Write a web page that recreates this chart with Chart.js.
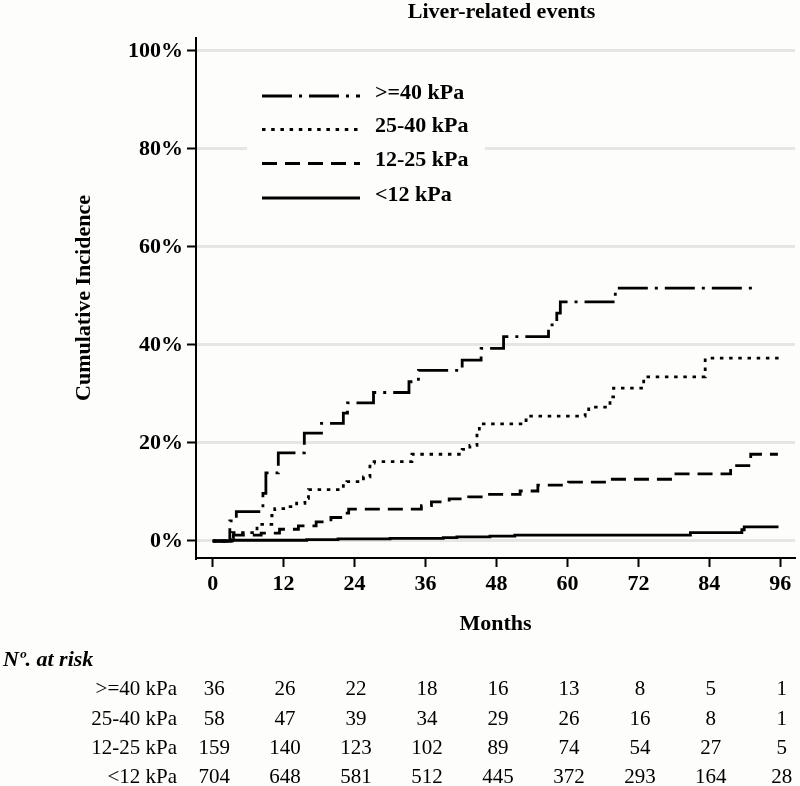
<!DOCTYPE html>
<html><head><meta charset="utf-8">
<script src="https://cdn.jsdelivr.net/npm/chart.js@4.4.1/dist/chart.umd.min.js"></script>
<style>
html,body{margin:0;padding:0;background:#fdfdfb;}
#wrap{width:800px;height:786px;position:relative;}
</style></head>
<body><div id="wrap"><canvas id="c" width="800" height="786"></canvas></div>
<script>
// ---- data ----
const chartTitle = 'Liver-related events';
const xAxisTitle = 'Months';
const yAxisTitle = 'Cumulative Incidence';
const seriesNames = ['>=40 kPa', '25-40 kPa', '12-25 kPa', '<12 kPa'];

const months_ge40 = [0, 2.9, 4.0, 8.5, 9.0, 11.1, 15.5, 18.4, 22.1, 22.8, 27.2, 33.2, 34.8, 42.2, 45.4, 49.2, 56.8, 58.2, 58.8, 68.1, 92.0];
const cuminc_ge40 = [0, 4.1, 6.0, 9.7, 13.9, 18.0, 22.0, 24.0, 26.1, 28.2, 30.3, 32.5, 34.8, 36.9, 39.3, 41.7, 44.1, 46.5, 48.8, 51.6, 51.6];

const months_25_40 = [0, 3.3, 7.5, 10.0, 10.5, 13.1, 14.2, 15.6, 16.2, 22.1, 22.7, 25.5, 26.6, 27.3, 33.7, 42.2, 43.5, 44.7, 45.1, 53.0, 53.5, 63.0, 63.6, 67.2, 67.8, 72.9, 83.3, 95.8];
const cuminc_25_40 = [0, 1.7, 3.4, 5.2, 6.6, 7.0, 7.7, 8.7, 10.5, 11.8, 12.1, 13.1, 15.9, 16.2, 17.7, 18.7, 19.5, 22.0, 23.9, 24.7, 25.5, 26.3, 27.3, 29.4, 31.2, 33.5, 37.3, 37.3];

const months_12_25 = [0, 2.5, 3.5, 8.2, 11.3, 14.5, 17.5, 20.0, 22.5, 23.0, 35.3, 37.0, 40.0, 43.3, 46.5, 52.0, 55.0, 60.2, 67.0, 77.8, 87.6, 91.0, 95.6];
const cuminc_12_25 = [0, 0.6, 1.2, 1.6, 2.4, 3.1, 3.9, 4.8, 5.7, 6.5, 7.2, 8.0, 8.6, 9.0, 9.5, 10.2, 11.4, 12.0, 12.6, 13.7, 15.4, 17.7, 17.7];

const months_lt12 = [0.3, 3.0, 15.9, 21.2, 30.0, 39.0, 41.3, 46.9, 51.1, 80.8, 89.5, 89.9, 95.7];
const cuminc_lt12 = [0, 0.15, 0.3, 0.45, 0.55, 0.7, 0.85, 1.0, 1.2, 1.7, 2.3, 2.9, 2.9];

const xTicks = [0, 12, 24, 36, 48, 60, 72, 84, 96];
const yTicks = [0, 20, 40, 60, 80, 100];

const riskHeader = 'Nº. at risk';
const riskLabels = ['>=40 kPa', '25-40 kPa', '12-25 kPa', '<12 kPa'];
const risk_ge40  = [36, 26, 22, 18, 16, 13, 8, 5, 1];
const risk_25_40 = [58, 47, 39, 34, 29, 26, 16, 8, 1];
const risk_12_25 = [159, 140, 123, 102, 89, 74, 54, 27, 5];
const risk_lt12  = [704, 648, 581, 512, 445, 372, 293, 164, 28];

// ---- styles ----
const BG = '#fdfdfb';
const SERIF = '"Liberation Serif", "Times New Roman", serif';
const BOLD = 22;
const dashes = [[30, 7, 3, 7], [3.5, 5.7], [15, 8], []];
const toPts = (xs, ys) => xs.map((x, i) => ({x: x, y: ys[i]}));
const seriesData = [
  toPts(months_ge40, cuminc_ge40),
  toPts(months_25_40, cuminc_25_40),
  toPts(months_12_25, cuminc_12_25),
  toPts(months_lt12, cuminc_lt12)
];
const riskRows = [risk_ge40, risk_25_40, risk_12_25, risk_lt12];

const datasets = seriesNames.map((n, i) => ({
  label: n,
  data: seriesData[i],
  borderColor: '#000',
  borderWidth: 2.8,
  borderDash: dashes[i],
  borderCapStyle: 'butt',
  stepped: true,
  pointRadius: 0,
  fill: false,
  tension: 0
}));

const extras = {
  id: 'extras',
  afterDatasetsDraw(chart) {
    const ctx = chart.ctx;
    const ca = chart.chartArea;
    ctx.save();
    // legend box
    ctx.fillStyle = BG;
    ctx.fillRect(247, 66, 238, 146);
    const rowsText = [92, 125.5, 159.5, 194];
    ctx.font = 'bold ' + BOLD + 'px ' + SERIF;
    ctx.textBaseline = 'middle';
    ctx.textAlign = 'left';
    ctx.fillStyle = '#000';
    seriesNames.forEach((n, i) => {
      const ly = rowsText[i] + 4;
      ctx.beginPath();
      ctx.setLineDash(dashes[i]);
      ctx.lineWidth = 2.8;
      ctx.strokeStyle = '#000';
      ctx.lineCap = 'butt';
      ctx.moveTo(262, ly);
      ctx.lineTo(360, ly);
      ctx.stroke();
      ctx.setLineDash([]);
      ctx.fillText(n, 375, rowsText[i] + 1);
    });
    // title
    ctx.textAlign = 'center';
    ctx.font = 'bold ' + BOLD + 'px ' + SERIF;
    ctx.fillText(chartTitle, (ca.left + ca.right) / 2 + 6, 12);
    ctx.restore();
  },
  afterDraw(chart) {
    const ctx = chart.ctx;
    const xs = chart.scales.x;
    ctx.save();
    ctx.fillStyle = '#000';
    ctx.textBaseline = 'middle';
    ctx.textAlign = 'left';
    ctx.font = 'italic bold 22px ' + SERIF;
    ctx.fillText(riskHeader, 3, 660);
    ctx.font = '21px ' + SERIF;
    const rowY = [689, 719, 748.5, 777.5];
    riskRows.forEach((row, r) => {
      ctx.textAlign = 'right';
      ctx.fillText(riskLabels[r], 177, rowY[r]);
      ctx.textAlign = 'center';
      row.forEach((v, j) => {
        ctx.fillText(String(v), xs.getPixelForValue(xTicks[j]) + 1.5, rowY[r]);
      });
    });
    ctx.restore();
  }
};

new Chart(document.getElementById('c'), {
  type: 'line',
  data: { datasets: datasets },
  plugins: [extras],
  options: {
    responsive: false,
    animation: false,
    devicePixelRatio: 1,
    layout: { padding: { top: 38, right: 5, left: 0, bottom: 0 } },
    plugins: { legend: { display: false }, title: { display: false }, tooltip: { enabled: false } },
    scales: {
      x: {
        type: 'linear',
        min: -2.82,
        max: 98.49,
        afterFit(s) { s.height = 228; },
        afterBuildTicks(s) { s.ticks = xTicks.map(v => ({value: v})); },
        ticks: { autoSkip: false, maxRotation: 0, padding: 4, color: '#000', font: { family: SERIF, size: BOLD, weight: 'bold' } },
        grid: { drawOnChartArea: false, drawTicks: true, tickLength: 9, tickColor: '#000', tickWidth: 2 },
        border: { display: true, color: '#000', width: 2 },
        title: { display: true, text: xAxisTitle, color: '#000', font: { family: SERIF, size: BOLD, weight: 'bold' }, padding: { top: 0, bottom: 148 } }
      },
      y: {
        type: 'linear',
        min: -3.47,
        max: 102.65,
        afterFit(s) { s.width = 196; },
        afterBuildTicks(s) { s.ticks = yTicks.map(v => ({value: v})); },
        ticks: { padding: 4, color: '#000', font: { family: SERIF, size: BOLD, weight: 'bold' }, callback: v => v + '%' },
        grid: { color: '#e6e6e3', lineWidth: 3, drawTicks: true, tickLength: 9, tickColor: '#000', tickWidth: 2 },
        border: { display: true, color: '#000', width: 2 },
        title: { display: true, text: yAxisTitle, color: '#000', font: { family: SERIF, size: BOLD, weight: 'bold' }, padding: { top: 71, bottom: 0 } }
      }
    }
  }
});
</script>
</body></html>
